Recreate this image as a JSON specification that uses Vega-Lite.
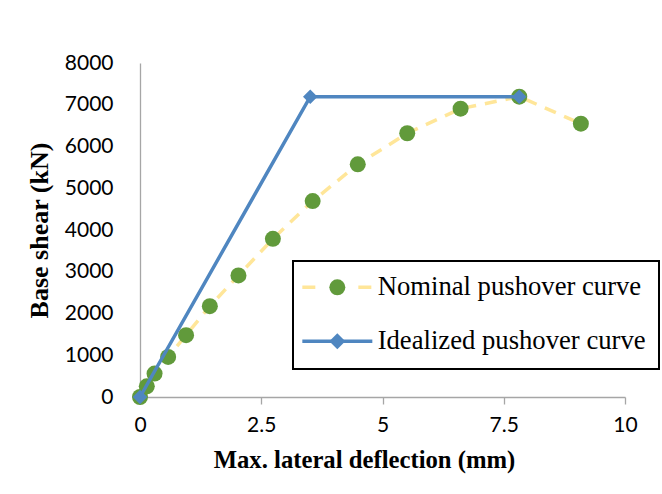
{
  "$schema": "https://vega.github.io/schema/vega-lite/v6.json",
  "width": 485,
  "height": 334,
  "autosize": {"type": "none"},
  "padding": {"left": 140, "top": 63, "right": 37, "bottom": 97},
  "background": "white",
  "config": {"view": {"stroke": null}, "axis": {"grid": false}},
  "data": {
    "values": [
      {"x": 0, "y": 0, "series": "Nominal pushover curve", "marker": "Nominal pushover curve"},
      {"x": 0.14, "y": 256, "series": "Nominal pushover curve", "marker": "Nominal pushover curve"},
      {"x": 0.3, "y": 561, "series": "Nominal pushover curve", "marker": "Nominal pushover curve"},
      {"x": 0.58, "y": 960, "series": "Nominal pushover curve", "marker": "Nominal pushover curve"},
      {"x": 0.95, "y": 1480, "series": "Nominal pushover curve", "marker": "Nominal pushover curve"},
      {"x": 1.44, "y": 2175, "series": "Nominal pushover curve", "marker": "Nominal pushover curve"},
      {"x": 2.03, "y": 2911, "series": "Nominal pushover curve", "marker": "Nominal pushover curve"},
      {"x": 2.74, "y": 3789, "series": "Nominal pushover curve", "marker": "Nominal pushover curve"},
      {"x": 3.56, "y": 4693, "series": "Nominal pushover curve", "marker": "Nominal pushover curve"},
      {"x": 4.49, "y": 5572, "series": "Nominal pushover curve", "marker": "Nominal pushover curve"},
      {"x": 5.51, "y": 6317, "series": "Nominal pushover curve", "marker": "Nominal pushover curve"},
      {"x": 6.61, "y": 6906, "series": "Nominal pushover curve", "marker": "Nominal pushover curve"},
      {"x": 7.82, "y": 7194, "series": "Nominal pushover curve", "marker": "Nominal pushover curve"},
      {"x": 9.09, "y": 6547, "series": "Nominal pushover curve", "marker": "Nominal pushover curve"},
      {"x": 0, "y": 0, "series": "Idealized pushover curve", "marker": "Idealized pushover curve"},
      {"x": 3.51, "y": 7194, "series": "Idealized pushover curve", "marker": "Idealized pushover curve"},
      {"x": 7.82, "y": 7194, "series": "Idealized pushover curve", "marker": "Idealized pushover curve"}
    ]
  },
  "encoding": {
    "x": {
      "field": "x", "type": "quantitative",
      "scale": {"domain": [0, 10], "nice": false, "zero": false},
      "axis": {
        "title": "Max. lateral deflection (mm)",
        "values": [0, 2.5, 5, 7.5, 10],
        "format": ".1~f",
        "domainColor": "#A6A6A6", "domainWidth": 1.3,
        "tickColor": "#A6A6A6", "tickSize": 7, "tickWidth": 1.3,
        "labelFont": "Lato", "labelFontSize": 21, "labelColor": "#000000", "labelPadding": 10,
        "labelFlush": false, "labelOverlap": false,
        "titleFont": "Liberation Serif", "titleFontWeight": "bold", "titleFontSize": 24.7,
        "titleColor": "#000000", "titlePadding": 12, "titleX": 224
      }
    },
    "y": {
      "field": "y", "type": "quantitative",
      "scale": {"domain": [0, 8000], "nice": false},
      "axis": {
        "title": "Base shear (kN)",
        "values": [0, 1000, 2000, 3000, 4000, 5000, 6000, 7000, 8000],
        "format": "d",
        "domainColor": "#A6A6A6", "domainWidth": 1.3,
        "ticks": false, "tickSize": 0,
        "labelFont": "Lato", "labelFontSize": 21, "labelColor": "#000000", "labelPadding": 27,
        "labelFlush": false, "labelOverlap": false,
        "titleFont": "Liberation Serif", "titleFontWeight": "bold", "titleFontSize": 26,
        "titleColor": "#000000", "titlePadding": 12
      }
    }
  },
  "layer": [
    {
      "transform": [{"filter": "datum.series === 'Nominal pushover curve'"}],
      "mark": {"type": "line", "strokeWidth": 3.5, "strokeDash": [12, 9]},
      "encoding": {
        "stroke": {
          "field": "series", "type": "nominal",
          "scale": {"domain": ["Nominal pushover curve", "Idealized pushover curve"], "range": ["#FFE699", "#4F86C0"]},
          "legend": {
            "orient": "none", "legendX": 153, "legendY": 198, "padding": 13,
            "title": null, "symbolType": "M-10,0H10", "symbolSize": 49, "symbolStrokeWidth": 3.5,
            "symbolOffset": 18,
            "strokeColor": "#000000", "fillColor": null,
            "labelFont": "Liberation Serif", "labelFontSize": 26.67, "labelColor": "#000000",
            "labelOffset": 27, "rowPadding": 26, "labelLimit": 400,
            "encode": {
              "legend": {"update": {"strokeWidth": {"value": 2}}},
              "symbols": {"update": {"strokeDash": {"signal": "datum.value === 'Nominal pushover curve' ? [13, 43] : [1, 0]"}}}
            }
          }
        }
      }
    },
    {
      "transform": [{"filter": "datum.series === 'Nominal pushover curve'"}],
      "mark": {"type": "point", "filled": true, "opacity": 1, "size": 256, "strokeWidth": 0},
      "encoding": {
        "fill": {
          "field": "marker", "type": "nominal", "sort": "descending",
          "scale": {"range": ["#619A3B", "#4F86C0"]},
          "legend": {
            "orient": "none", "legendX": 153, "legendY": 198, "padding": 13,
            "title": null, "symbolSize": 256, "symbolStrokeWidth": 0, "symbolOffset": 18,
            "symbolOpacity": 1,
            "labelFont": "Liberation Serif", "labelFontSize": 26.67, "labelOpacity": 0,
            "labelOffset": 6, "rowPadding": 26, "labelLimit": 400,
            "encode": {"labels": {"update": {"text": {"value": ""}}}}
          }
        },
        "shape": {
          "field": "marker", "type": "nominal", "sort": "descending",
          "scale": {"range": ["circle", "diamond"]},
          "legend": {
            "orient": "none", "legendX": 153, "legendY": 198, "padding": 13,
            "title": null, "symbolSize": 256, "symbolStrokeWidth": 0, "symbolOffset": 18,
            "symbolOpacity": 1,
            "labelFont": "Liberation Serif", "labelFontSize": 26.67, "labelOpacity": 0,
            "labelOffset": 6, "rowPadding": 26, "labelLimit": 400,
            "encode": {"labels": {"update": {"text": {"value": ""}}}}
          }
        }
      }
    },
    {
      "transform": [{"filter": "datum.series === 'Idealized pushover curve'"}],
      "mark": {"type": "line", "strokeWidth": 3.5},
      "encoding": {
        "stroke": {"field": "series", "type": "nominal"}
      }
    },
    {
      "transform": [{"filter": "datum.series === 'Idealized pushover curve'"}],
      "mark": {"type": "point", "filled": true, "opacity": 1, "size": 210, "strokeWidth": 0},
      "encoding": {
        "fill": {"field": "marker", "type": "nominal", "sort": "descending"},
        "shape": {"field": "marker", "type": "nominal", "sort": "descending"}
      }
    }
  ]
}
